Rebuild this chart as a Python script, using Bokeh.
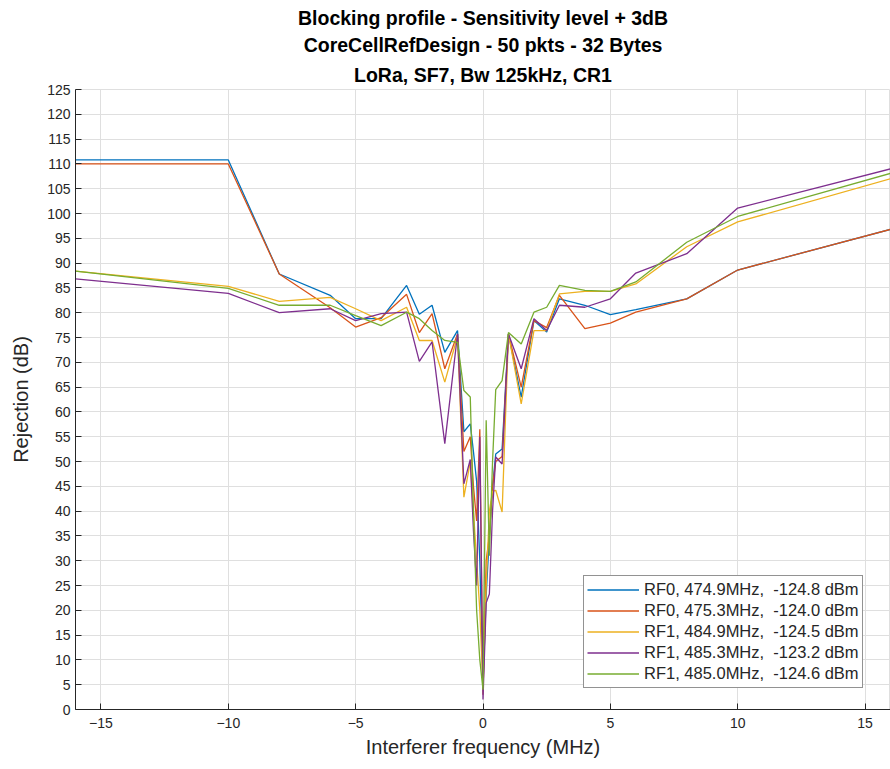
from bokeh.plotting import figure
from bokeh.models import Title, Legend, LegendItem, Range1d, FixedTicker
from bokeh.embed import file_html
from bokeh.resources import INLINE

freq = [-16, -10, -8, -6, -5, -4, -3, -2.5, -2, -1.5, -1, -0.75, -0.5, -0.375, -0.25, -0.125,
        0, 0.125, 0.25, 0.375, 0.5, 0.75, 1, 1.5, 2, 2.5, 3, 4, 5, 6, 8, 10, 16]

rf0_4749 = [110.8, 110.8, 87.8, 83.5, 78.8, 78.8, 85.5, 79.7, 81.5, 72.0, 76.4, 56.0, 57.6, 52.0, 46.0, 30.0,
            5.0, 23.0, 35.0, 45.0, 51.5, 52.5, 75.7, 63.0, 78.4, 76.1, 82.8, 81.5, 79.6, 80.6, 82.8, 88.6, 96.8]
rf0_4753 = [110.0, 110.0, 87.8, 81.0, 77.1, 79.0, 83.7, 76.0, 79.8, 68.7, 75.7, 52.0, 55.0, 45.0, 38.0, 56.5,
            3.0, 30.0, 35.0, 45.0, 50.0, 51.0, 75.7, 65.0, 78.4, 77.0, 83.5, 76.8, 77.9, 80.1, 82.8, 88.6, 96.8]
rf1_4849 = [88.4, 85.3, 82.3, 83.1, 80.8, 78.4, 81.1, 74.4, 74.4, 66.0, 75.3, 42.8, 49.9, 40.0, 30.0, 20.0,
            4.0, 25.0, 40.0, 44.0, 44.2, 39.8, 75.7, 61.6, 76.4, 76.4, 83.8, 84.3, 84.3, 85.8, 93.3, 98.3, 107.0]
rf1_4853 = [86.8, 83.9, 80.0, 80.8, 78.4, 79.8, 80.1, 70.2, 74.1, 53.6, 75.7, 45.5, 50.4, 36.0, 25.0, 55.0,
            2.0, 21.5, 23.3, 40.0, 50.9, 49.5, 75.7, 68.7, 78.8, 76.4, 81.5, 81.1, 82.8, 88.0, 91.9, 101.1, 109.0]
rf1_4850 = [88.4, 84.9, 81.5, 81.5, 79.4, 77.4, 80.1, 78.8, 76.4, 74.4, 74.0, 64.3, 63.0, 40.0, 20.0, 10.0,
            4.0, 58.3, 31.0, 50.0, 64.5, 66.3, 76.0, 73.7, 80.1, 81.1, 85.5, 84.5, 84.3, 86.2, 94.2, 99.4, 108.1]

labels = ["RF0, 474.9MHz,  -124.8 dBm", "RF0, 475.3MHz,  -124.0 dBm", "RF1, 484.9MHz,  -124.5 dBm",
          "RF1, 485.3MHz,  -123.2 dBm", "RF1, 485.0MHz,  -124.6 dBm"]
series = [rf0_4749, rf0_4753, rf1_4849, rf1_4853, rf1_4850]
colors = ["#0072BD", "#D95319", "#EDB120", "#7E2F8E", "#77AC30"]

title_lines = ["Blocking profile - Sensitivity level + 3dB",
               "CoreCellRefDesign - 50 pkts - 32 Bytes",
               "LoRa, SF7, Bw 125kHz, CR1"]

FONT = "Liberation Sans"
TXT = "#262626"

p = figure(width=890, height=769, output_backend="svg", toolbar_location=None, title=None,
           x_range=Range1d(-16, 16), y_range=Range1d(0, 125),
           min_border_left=75, min_border_right=0, min_border_top=89, min_border_bottom=60)

for i, t in enumerate(reversed(title_lines)):
    p.add_layout(Title(text=t, align="center", text_font=FONT, text_font_size="19.5px",
                       text_font_style="bold", text_color="#000000",
                       standoff=8 if i == 0 else 3), "above")

items = []
for lab, ys, c in zip(labels, series, colors):
    r = p.line(freq, ys, line_color=c, line_width=1.3)
    items.append(LegendItem(label=lab, renderers=[r]))

p.xaxis.ticker = FixedTicker(ticks=[-15, -10, -5, 0, 5, 10, 15])
p.yaxis.ticker = FixedTicker(ticks=list(range(0, 126, 5)))
p.xaxis.axis_label = "Interferer frequency (MHz)"
p.yaxis.axis_label = "Rejection (dB)"
for ax in (p.xaxis[0], p.yaxis[0]):
    ax.axis_label_text_font = FONT
    ax.axis_label_text_font_size = "20px"
    ax.axis_label_text_font_style = "normal"
    ax.axis_label_text_color = TXT
    ax.major_label_text_font = FONT
    ax.major_label_text_font_size = "14px"
    ax.major_label_text_color = TXT
    ax.axis_line_color = TXT
    ax.major_tick_line_color = TXT
    ax.major_tick_in = 6
    ax.major_tick_out = 0
    ax.minor_tick_line_color = None
p.xaxis.major_label_standoff = 8
p.yaxis.major_label_standoff = 5
p.xaxis.axis_label_standoff = 5
p.yaxis.axis_label_standoff = 12

p.xgrid.grid_line_color = "#dfdfdf"
p.ygrid.grid_line_color = "#dfdfdf"
p.outline_line_color = "#dfdfdf"

leg = Legend(items=items, location=(508, 21), label_text_font=FONT, label_text_font_size="16.5px",
             label_text_color=TXT, glyph_width=52, glyph_height=21, spacing=0, padding=3,
             margin=0, border_line_color="#262626", border_line_width=1, background_fill_alpha=1,
             label_standoff=5, label_height=21)
p.add_layout(leg, "center")

open("out.html", "w").write(file_html(p, INLINE))
